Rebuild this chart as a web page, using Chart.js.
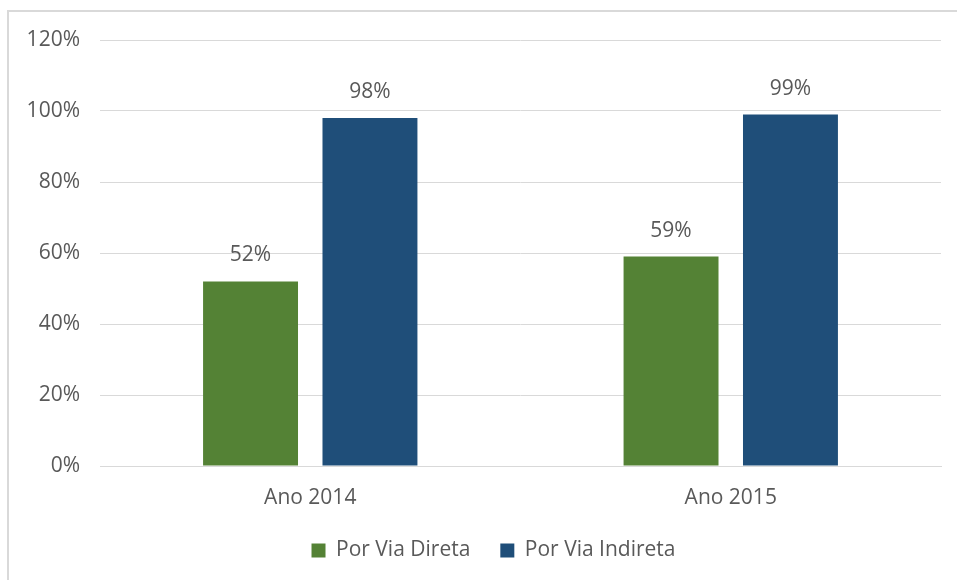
<!DOCTYPE html>
<html>
<head>
<meta charset="utf-8">
<script src="https://cdn.jsdelivr.net/npm/chart.js@4.4.0/dist/chart.umd.min.js"></script>
<style>
  html, body { margin: 0; padding: 0; background: #fff; overflow: hidden; }
  #frame {
    position: absolute; left: 7px; top: 10px; width: 980px; height: 600px;
    border: 2px solid #d9d9d9; box-sizing: border-box;
  }
  #wrap { position: absolute; left: 0; top: 0; width: 957px; height: 580px; }
</style>
</head>
<body>
<div id="frame"></div>
<div id="wrap"><canvas id="grafico"></canvas></div>
<script>
const anos = ['Ano 2014', 'Ano 2015'];
const viaDireta = [52, 59];
const viaIndireta = [98, 99];
const ticksY = [0, 20, 40, 60, 80, 100, 120];

const corTexto = '#595959';
Chart.defaults.font.family = '"Open Sans", sans-serif';
Chart.defaults.font.size = 21;
Chart.defaults.color = corTexto;

// rótulos acima das barras
const rotulos = {
  id: 'rotulos',
  afterLayout(chart) {
    // legenda um pouco deslocada para a direita, como no original
    chart.legend.left += 23;
    chart.legend.right += 23;
  },
  afterDatasetsDraw(chart) {
    const ctx = chart.ctx;
    ctx.save();
    ctx.font = '21px "Open Sans", sans-serif';
    ctx.fillStyle = corTexto;
    ctx.textAlign = 'center';
    ctx.textBaseline = 'middle';
    chart.data.datasets.forEach((ds, i) => {
      chart.getDatasetMeta(i).data.forEach((bar, j) => {
        ctx.fillText(ds.data[j] + '%', bar.x, bar.y - 26);
      });
    });
    ctx.restore();
  }
};

new Chart(document.getElementById('grafico'), {
  type: 'bar',
  data: {
    labels: anos,
    datasets: [
      { label: 'Por Via Direta', data: viaDireta, backgroundColor: '#548235' },
      { label: 'Por Via Indireta', data: viaIndireta, backgroundColor: '#1f4e79' }
    ]
  },
  options: {
    responsive: true,
    maintainAspectRatio: false,
    animation: false,
    categoryPercentage: 0.568,
    barPercentage: 0.795,
    layout: { padding: { top: 40, right: 16, left: 0, bottom: 9 } },
    scales: {
      x: {
        grid: { display: false },
        border: { color: '#d9d9d9' },
        ticks: { padding: 11 },
        afterFit(scale) { scale.height = 44; }
      },
      y: {
        min: 0,
        max: 120,
        afterBuildTicks(scale) { scale.ticks = ticksY.map(v => ({ value: v })); },
        ticks: { padding: 20, callback: v => v + '%' },
        grid: { color: '#d9d9d9', drawTicks: false },
        border: { display: false },
        afterFit(scale) { scale.width = 100; }
      }
    },
    plugins: {
      legend: {
        position: 'bottom',
        labels: { boxWidth: 14, boxHeight: 14, padding: 30 }
      },
      tooltip: { enabled: false }
    }
  },
  plugins: [rotulos]
});
</script>
</body>
</html>
